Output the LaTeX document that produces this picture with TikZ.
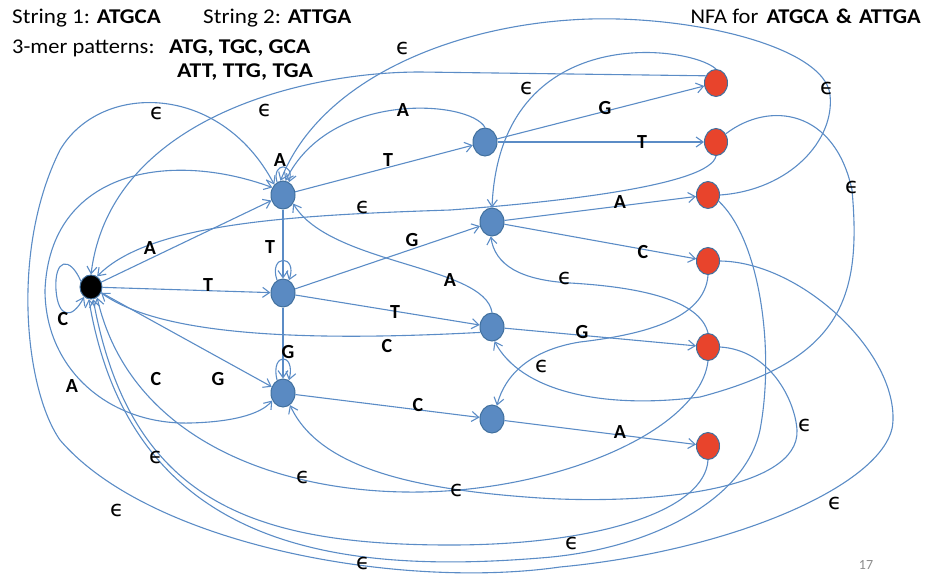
\documentclass[tikz,border=0pt]{standalone}
\usepackage{fontspec}
\setmainfont{Carlito}
\newfontfamily\epsfont{DejaVu Sans}
\usetikzlibrary{arrows.meta,shapes.geometric}
\definecolor{edgec}{HTML}{5B8CC6}
\definecolor{bfill}{HTML}{5A8AC2}
\definecolor{bord}{HTML}{41709E}
\definecolor{rfill}{HTML}{E8442C}
\definecolor{pgnum}{HTML}{8C8C8C}
\newcommand{\hstr}[2]{\scalebox{#1}[1]{#2}}
\begin{document}
\begin{tikzpicture}[x=1pt,y=-1pt,
  bnode/.style={ellipse, draw=bord, fill=bfill, line width=1pt, minimum width=24pt, minimum height=28pt, inner sep=0pt},
  rnode/.style={ellipse, draw=bord, fill=rfill, line width=1pt, minimum width=23pt, minimum height=27pt, inner sep=0pt},
  snode/.style={ellipse, draw=bord, fill=black, line width=1pt, minimum width=22pt, minimum height=24pt, inner sep=0pt},
  e/.style={draw=edgec, line width=1.1pt, -{Straight Barb[length=7pt,width=10pt]}},
  ee/.style={draw=edgec, line width=1.1pt, {Straight Barb[length=7pt,width=10pt]}-{Straight Barb[length=7pt,width=10pt]}},
  lbl/.style={font=\fontsize{20}{20}\selectfont\bfseries, inner sep=0pt},
  ep/.style={font=\epsfont\fontsize{22}{22}\selectfont, inner sep=0pt},
  hdr/.style={font=\fontsize{21}{22}\selectfont, inner sep=0pt, anchor=base west}
]
\useasboundingbox (0,0) rectangle (926,576);

% header texts
\node[hdr] (h1) at (12,23) {\hstr{1.1}{String 1: \textbf{ATGCA}}};
\node[hdr] (h2) at (203,23) {\hstr{1.1}{String 2: \textbf{ATTGA}}};
\node[hdr] (h3) at (12,53) {\hstr{1.07}{3-mer patterns:}};
\node[hdr] (h4) at (169,53) {\hstr{1.12}{\textbf{ATG, TGC, GCA}}};
\node[hdr] (h5) at (177,77) {\hstr{1.13}{\textbf{ATT, TTG, TGA}}};
\node[hdr, anchor=base east] (h6) at (921,23) {\hstr{1.07}{NFA for\hspace{3pt} \textbf{ATGCA\hspace{2pt} \&\hspace{2pt} ATTGA}}};
\node[font=\fontsize{14}{14}\selectfont, text=pgnum, inner sep=0pt] (pg) at (866,565) {17};

% states
\node[snode] (S) at (91,287) {};
\node[bnode] (A) at (283,195) {};
\node[bnode] (T) at (283,293) {};
\node[bnode] (G) at (283,393) {};
\node[bnode] (AT) at (485,142) {};
\node[bnode] (TG) at (492,222) {};
\node[bnode] (TT) at (492,327) {};
\node[bnode] (GC) at (492,419) {};
\node[rnode] (ATG) at (716,83) {};
\node[rnode] (ATT) at (716,142) {};
\node[rnode] (TGA) at (708,195) {};
\node[rnode] (TGC) at (708,261) {};
\node[rnode] (TTG) at (708,347) {};
\node[rnode] (GCA) at (708,446) {};

% straight transitions
\draw[e] (S) -- (A);
\draw[e] (S) -- (T);
\draw[e] (S) -- (G);
\draw[e] (A) -- (AT);
\draw[e] (AT) -- (ATG);
\draw[e] (AT) -- (ATT);
\draw[e] (T) -- (TG);
\draw[e] (T) -- (TT);
\draw[e] (TG) -- (TGA);
\draw[e] (TG) -- (TGC);
\draw[e] (TT) -- (TTG);
\draw[e] (G) -- (GC);
\draw[e] (GC) -- (GCA);
\draw[e] (A) -- (T);
\draw[e] (T) -- (G);

% loops
\draw[e] (A.115) .. controls (271,162) and (295,162) .. (A.65);
\draw[e] (T.115) .. controls (268,254) and (298,254) .. (T.65);
\draw[e] (G.115) .. controls (270,352) and (296,352) .. (G.65);
\draw[e] (S.150) .. controls (70,256) and (54,258) .. (56,290) .. controls (58,318) and (72,320) .. (S.235);

% labelled curves
\draw[e] (AT.north) .. controls (470,100) and (330,90) .. (A.80);
\draw[e] (TT.north) .. controls (485,265) and (330,265) .. (A.-40);
\draw[e] (TT.205) .. controls (300,342) and (160,335) .. (S.-30);
\draw[ee] (A.145) .. controls (170,150) and (50,170) .. (45,290) .. controls (45,370) and (110,425) .. (190,423) .. controls (230,422) and (260,415) .. (G.215);

% epsilon curves
\draw[e] (ATG.north) .. controls (690,45) and (500,20) .. (TG.north);
\draw[e] (ATG.145) -- (420,72) .. controls (300,72) and (110,120) .. (S.north);
\draw[e] (ATT.south) .. controls (710,185) and (560,202) .. (450,210) .. controls (300,215) and (150,222) .. (S.60);
\draw[e] (ATT.40) .. controls (770,100) and (835,110) .. (852,190) .. controls (862,300) and (840,360) .. (700,397) .. controls (600,410) and (520,390) .. (TT.-80);
\draw[e] (TGA.east) .. controls (790,190) and (835,140) .. (830,95) .. controls (825,45) and (680,12) .. (570,20) .. controls (450,28) and (320,80) .. (A.100);
\draw[e] (TGC.east) .. controls (800,262) and (895,350) .. (893,420) .. controls (893,480) and (740,550) .. (560,567) .. controls (400,590) and (150,545) .. (60,440) .. controls (25,390) and (10,250) .. (60,150) .. controls (100,82) and (220,82) .. (A.130);
\draw[e] (TGA.-30) .. controls (760,240) and (775,350) .. (760,430) .. controls (745,500) and (650,550) .. (540,558) .. controls (330,575) and (130,545) .. (S.-100);
\draw[e] (GCA.south) .. controls (705,510) and (600,545) .. (450,545) .. controls (250,545) and (130,500) .. (S.-80);
\draw[e] (TTG.south) .. controls (700,430) and (560,490) .. (420,492) .. controls (280,494) and (130,440) .. (S.-60);
\draw[e] (TTG.east) .. controls (770,350) and (795,400) .. (797,430) .. controls (800,490) and (650,505) .. (540,498) .. controls (420,490) and (320,470) .. (G.-60);
\draw[e] (TTG.north) .. controls (700,300) and (640,287) .. (570,283) .. controls (520,280) and (495,265) .. (TG.-95);
\draw[e] (TGC.south) .. controls (705,320) and (640,335) .. (580,342) .. controls (530,350) and (505,375) .. (GC.70);

% symbol labels
\node[lbl] (lA1) at (150,248) {A};
\node[lbl] (lT1) at (208,285) {T};
\node[lbl] (lG1) at (218,379) {G};
\node[lbl] (lC1) at (156,379) {C};
\node[lbl] (lA2) at (72,386) {A};
\node[lbl] (lC2) at (63,319) {C};
\node[lbl] (lA3) at (280,160) {A};
\node[lbl] (lT2) at (270,247) {T};
\node[lbl] (lG2) at (288,352) {G};
\node[lbl] (lT3) at (388,160) {T};
\node[lbl] (lA4) at (403,110) {A};
\node[lbl] (lG3) at (412,240) {G};
\node[lbl] (lA5) at (450,280) {A};
\node[lbl] (lT4) at (395,312) {T};
\node[lbl] (lC3) at (387,346) {C};
\node[lbl] (lC4) at (418,405) {C};
\node[lbl] (lG4) at (605,108) {G};
\node[lbl] (lT5) at (642,142) {T};
\node[lbl] (lA6) at (620,202) {A};
\node[lbl] (lC5) at (643,252) {C};
\node[lbl] (lG5) at (582,332) {G};
\node[lbl] (lA7) at (620,432) {A};

% epsilon labels
\node[ep] (e1) at (403,48) {ϵ};
\node[ep] (e2) at (265,110) {ϵ};
\node[ep] (e3) at (157,113) {ϵ};
\node[ep] (e4) at (527,88) {ϵ};
\node[ep] (e5) at (827,88) {ϵ};
\node[ep] (e6) at (852,187) {ϵ};
\node[ep] (e7) at (363,207) {ϵ};
\node[ep] (e8) at (565,278) {ϵ};
\node[ep] (e9) at (542,366) {ϵ};
\node[ep] (e10) at (805,425) {ϵ};
\node[ep] (e11) at (156,457) {ϵ};
\node[ep] (e12) at (303,477) {ϵ};
\node[ep] (e13) at (457,490) {ϵ};
\node[ep] (e14) at (117,510) {ϵ};
\node[ep] (e15) at (572,543) {ϵ};
\node[ep] (e16) at (363,563) {ϵ};
\node[ep] (e17) at (835,503) {ϵ};
\end{tikzpicture}
\end{document}
